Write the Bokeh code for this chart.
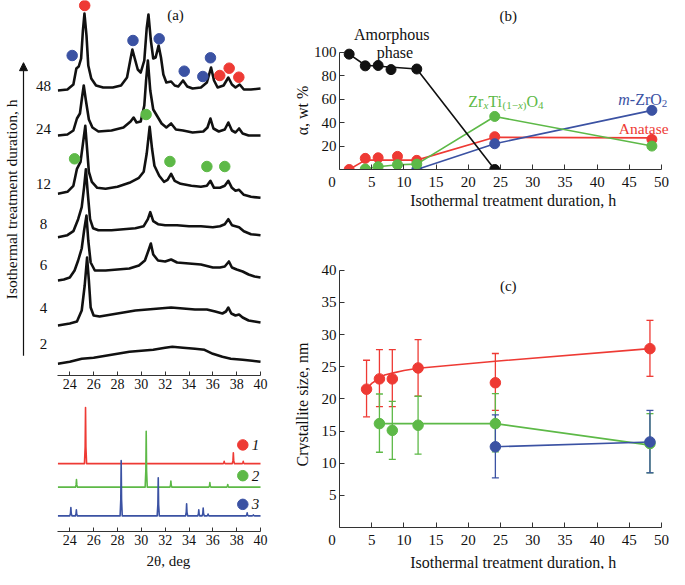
import math
from bokeh.plotting import figure
from bokeh.models import (Label, Arrow, NormalHead, FixedTicker, Range1d, Whisker,
                          ColumnDataSource, TeeHead)
from bokeh.layouts import row, column
from bokeh.embed import file_html
from bokeh.resources import INLINE
from bokeh.core.properties import value

FONT = "Liberation Serif"
RED = "#EE3A34"
GREEN = "#5DB947"
BLUE = "#3B52A3"
INK = "#111111"
AXC = "#333333"

# ---------------- data: panel (a), XRD patterns (2theta, intensity a.u.) ----------------
durations = ["48", "24", "12", "8", "6", "4", "2"]

tt_48 = [23.0, 23.8, 24.3, 24.55, 24.75, 24.95, 25.1, 25.23, 25.4, 25.55, 25.8, 26.2, 26.8, 27.6, 28.3,
         28.8, 29.1, 29.25, 29.45, 29.7, 29.95, 30.25, 30.45, 30.6, 30.8, 31.0, 31.2, 31.45, 31.65,
         31.85, 32.1, 32.5, 32.8, 33.1, 33.5, 33.85, 34.3, 35.0, 35.5, 35.85, 36.1, 36.4, 36.9, 37.3,
         37.6, 37.9, 38.25, 38.6, 39.2, 40.0]
int_48 = [0, 1, 6, 22, 24, 32, 60, 77, 55, 25, 12, 5, 3, 3, 5,
          13, 32, 41, 32, 21, 18, 30, 62, 76, 50, 32, 33, 45, 33,
          16, 8, 9, 5, 4, 10, 4, 2, 3, 8, 23, 10, 3, 5, 13,
          6, 3, 6, 1, 1, 2]

tt_24 = [23.0, 23.8, 24.3, 24.6, 24.85, 25.05, 25.17, 25.35, 25.6, 25.9, 26.4, 27.5, 28.5, 29.1, 29.35,
         29.6, 29.95, 30.25, 30.4, 30.55, 30.75, 31.0, 31.4, 31.7, 32.1, 32.5, 32.9, 33.5, 34.3, 35.2,
         35.55, 35.8, 36.05, 36.5, 37.0, 37.3, 37.6, 37.9, 38.2, 38.5, 39.0, 40.0]
int_24 = [0, 1, 5, 17, 22, 40, 50, 35, 16, 8, 4, 5, 8, 14, 18,
          13, 14, 30, 55, 75, 45, 26, 18, 12, 8, 12, 6, 5, 3, 4,
          8, 17, 7, 4, 6, 13, 5, 3, 7, 2, 0, 0]

tt_12 = [23.0, 23.8, 24.3, 24.6, 24.9, 25.1, 25.3, 25.45, 25.6, 25.85, 26.3, 27.0, 28.0, 29.0, 29.8,
         30.2, 30.45, 30.7, 30.9, 31.1, 31.5, 31.9, 32.2, 32.5, 32.8, 33.3, 34.2, 35.0, 35.5, 35.8,
         36.1, 36.6, 37.0, 37.3, 37.6, 37.9, 38.2, 38.6, 39.2, 40.0]
int_12 = [0, 2, 8, 25, 32, 50, 68, 45, 22, 12, 6, 5, 7, 11, 16,
          22, 40, 67, 45, 28, 18, 12, 14, 20, 13, 10, 8, 7, 8, 13,
          6, 6, 8, 13, 6, 3, 4, -1, -3, -4]

tt_8 = [23.0, 23.8, 24.3, 24.7, 25.0, 25.2, 25.35, 25.5, 25.7, 25.95, 26.4, 27.5, 28.5, 29.5, 30.2,
        30.55, 30.75, 31.0, 31.4, 32.0, 33.0, 34.0, 35.0, 36.0, 36.6, 37.0, 37.3, 37.6, 37.9, 38.2,
        38.6, 39.2, 40.0]
int_8 = [0, 2, 6, 18, 30, 50, 68, 45, 18, 9, 7, 7, 8, 9, 11,
         18, 25, 16, 13, 12, 12, 11, 11, 10, 11, 13, 18, 12, 11, 10,
         6, 3, 2]

tt_6 = [23.0, 23.5, 24.0, 24.4, 24.7, 25.0, 25.2, 25.4, 25.55, 25.75, 26.1, 27.0, 28.0, 29.0, 29.8,
        30.3, 30.6, 30.8, 31.0, 31.4, 32.0, 32.5, 33.0, 34.0, 35.0, 36.0, 36.6, 37.0, 37.35, 37.6,
        38.0, 38.5, 39.0, 39.5, 40.0]
int_6 = [0, 1, 3, 10, 20, 32, 50, 65, 40, 18, 10, 10, 11, 12, 15,
         20, 30, 37, 26, 20, 19, 21, 18, 17, 16, 13, 13, 14, 19, 13,
         11, 9, 6, 4, 3]

tt_4 = [23.0, 24.0, 24.6, 25.0, 25.25, 25.45, 25.6, 25.75, 26.0, 26.5, 27.5, 28.5, 29.5, 30.5, 31.5,
        32.5, 33.5, 34.5, 35.5, 36.2, 36.8, 37.1, 37.3, 37.55, 37.9, 38.2, 38.5, 39.0, 39.5, 40.0]
int_4 = [0, 2, 4, 15, 40, 68, 45, 18, 10, 9, 11, 13, 15, 16, 17,
         18, 17, 16, 16, 14, 12, 14, 18, 12, 10, 11, 8, 5, 4, 3]

tt_2 = [23.0, 24.0, 25.0, 26.0, 27.0, 28.0, 29.0, 30.0, 31.0, 32.0, 32.6, 33.5, 34.5, 35.3, 36.0,
        36.8, 37.5, 38.5, 39.3, 40.0]
int_2 = [0, 2, 5, 6, 8, 10, 12, 13, 14, 16, 17, 16, 15, 14, 10,
         7, 5, 4, 3, 2]

patterns = [(tt_48, int_48), (tt_24, int_24), (tt_12, int_12), (tt_8, int_8),
            (tt_6, int_6), (tt_4, int_4), (tt_2, int_2)]

# phase markers above the peaks (2theta, level in panel units)
anat_mark_tt = [25.25, 36.58, 37.37, 38.18]
anat_mark_y = [370.0, 300, 307.3, 298.3]
mzr_mark_tt = [24.2, 29.3, 31.5, 33.6, 35.16, 35.8]
mzr_mark_y = [320, 335, 336.7, 304.3, 299, 317.7]
zt_mark_tt = [30.4, 24.4, 32.4, 35.5, 37.0]
zt_mark_y = [261, 216.7, 214, 209, 209]

# reference (card) patterns: peak positions and heights
anat_pk_tt = [25.32, 36.95, 37.72, 38.55]
anat_pk_h = [62, 2.5, 12, 2.5]
zt_pk_tt = [24.56, 30.41, 32.48, 35.75, 37.25]
zt_pk_h = [8.3, 61.7, 6.7, 5, 3]
mzr_pk_tt = [24.09, 24.55, 28.31, 31.42, 33.8, 34.82, 35.19, 35.6, 38.88, 39.4]
mzr_pk_h = [9.3, 6.7, 61, 42, 13.3, 6.7, 8.7, 2, 3.3, 1]
ref_names = ["1", "2", "3"]

tt_ticks = [24, 26, 28, 30, 32, 34, 36, 38, 40]

# ---------------- data: panel (b) phase composition, wt % ----------------
amor_t = [1.5, 4.0, 6.0, 8.0, 12.0, 24.1]
amor_w = [98.5, 88.5, 88.8, 85.3, 85.8, 0]
amor_fit_t = [1.5, 4.0, 12.0, 24.1]
amor_fit_w = [98.5, 89.0, 85.8, 0]
anat_t = [1.5, 4.0, 6.0, 9.0, 12.0, 24.1, 48.5]
anat_w = [0, 9.5, 10.0, 11.2, 7.8, 28.0, 25.7]
anat_fit_t = [1.5, 4.0, 12.0, 24.1, 48.5]
anat_fit_w = [0, 8.0, 8.0, 27.5, 27.0]
zt_t = [4.0, 6.0, 9.0, 12.0, 24.1, 48.5]
zt_w = [0.4, 2.4, 4.1, 4.6, 45.3, 20.0]
mzr_t = [12.0, 24.1, 48.5]
mzr_w = [0, 22.0, 50.5]

# ---------------- data: panel (c) crystallite size, nm ----------------
c_anat_t = [4.2, 6.2, 8.2, 12.2, 24.2, 48.2]
c_anat_d = [21.5, 23.1, 23.1, 24.8, 22.5, 27.8]
c_anat_lo = [17.2, 18.8, 18.8, 20.4, 18.2, 23.5]
c_anat_hi = [26.0, 27.65, 27.65, 29.2, 27.05, 32.2]
c_anat_fit_t = [4.2, 5.0, 6.2, 7.0, 8.2, 10.0, 12.2, 24.2, 48.2]
c_anat_fit_d = [21.5, 22.4, 23.2, 23.7, 24.0, 24.4, 24.75, 25.85, 27.8]
c_zt_t = [6.2, 8.2, 12.2, 24.2, 48.2]
c_zt_d = [16.15, 15.1, 15.9, 16.15, 13.05]
c_zt_lo = [11.7, 10.6, 11.4, 11.75, 8.5]
c_zt_hi = [20.75, 19.6, 20.4, 20.8, 17.7]
c_zt_fit_t = [6.2, 24.2, 48.2]
c_zt_fit_d = [16.15, 16.15, 12.8]
c_mzr_t = [24.2, 48.2]
c_mzr_d = [12.55, 13.3]
c_mzr_lo = [7.7, 8.5]
c_mzr_hi = [17.5, 18.2]

t_ticks = [0, 5, 10, 15, 20, 25, 30, 35, 40, 45, 50]
wt_ticks = [20, 40, 60, 80, 100]
d_ticks = [5, 10, 15, 20, 25, 30, 35, 40]
t_title = "Isothermal treatment duration, h"

# ---------------- helpers ----------------
W = {"Z": .611, "r": .333, "T": .611, "i": .278, "(": .333, ")": .333, "1": .5, "\u2212": .564,
     "x": .444, "O": .722, "4": .5, "2": .5, "m": .722, "-": .333}


def rich(p, x, y, pieces, color, right=False):
    widths = [sum(W[c] for c in t) * fs for t, st, fs, dy in pieces]
    off = -sum(widths) if right else 0.0
    for (t, st, fs, dy), w in zip(pieces, widths):
        p.add_layout(Label(x=x, y=y, x_offset=off, y_offset=dy, text=t, text_font=FONT,
                           text_font_size=f"{fs}px", text_font_style=st, text_color=color,
                           text_baseline="alphabetic", text_align="left"))
        off += w


def lab(p, x, y, text, size="15px", color=INK, align="center", baseline="middle",
        angle=0.0, style="normal"):
    p.add_layout(Label(x=x, y=y, text=text, text_font=FONT, text_font_size=size,
                       text_color=color, text_align=align, text_baseline=baseline,
                       angle=angle, text_font_style=style))


def style_axis(ax, ticks, bounds, fs="15px", standoff=4, tick=5, overrides=None):
    ax.ticker = FixedTicker(ticks=ticks)
    ax.bounds = bounds
    ax.major_tick_in = tick
    ax.major_tick_out = 0
    ax.minor_tick_in = 0
    ax.minor_tick_out = 0
    ax.major_label_text_font = FONT
    ax.major_label_text_font_size = fs
    ax.major_label_text_color = INK
    ax.axis_line_color = AXC
    ax.major_tick_line_color = AXC
    ax.major_label_standoff = standoff
    if overrides:
        ax.major_label_overrides = overrides


def base_fig(w, h, xr, yr, **kw):
    p = figure(width=w, height=h, x_range=xr, y_range=yr, output_backend="svg",
               toolbar_location=None, outline_line_color=None, **kw)
    p.xgrid.visible = False
    p.ygrid.visible = False
    p.background_fill_color = "white"
    p.border_fill_color = "white"
    return p


def bare_fig(w, h, xr, yr):
    return base_fig(w, h, xr, yr, x_axis_location=None, y_axis_location=None,
                    min_border_left=0, min_border_right=0, min_border_top=0, min_border_bottom=0)


def stick_xy(pos, h, hw=0.09):
    xs, ys = [23.0], [0.0]
    for c, v in sorted(zip(pos, h)):
        xs += [c - hw, c - hw * 0.35, c, c + hw * 0.35, c + hw]
        ys += [0.0, v * 0.3, v, v * 0.3, 0.0]
    xs.append(40.0)
    ys.append(0.0)
    return xs, ys


# ---------------- layout (pixel positions inside the 669 x 569 page) ----------------
PX_DEG, TT0_PX = 11.92, 69.3   # column (a): 2theta 24 sits at 69.3 px, 11.92 px per degree


def px2tt(px):
    return 24 + (px - TT0_PX) / PX_DEG


a_xr = (px2tt(57), px2tt(261))
offsets = [285, 240, 181.7, 138.3, 95, 50, 11.7]
LEFT_W = 292
RIGHT_W = 669 - LEFT_W          # 377
STRIP_W = 18
MAIN_W = RIGHT_W - STRIP_W      # 359
BC_XR = (0, (MAIN_W - 27) / 6.48)

# ---------------- panel (a): left strip (arrow, durations, title) ----------------
pa0 = bare_fig(57, 398, Range1d(0, 57), Range1d(375 - 398, 375))
lab_src = ColumnDataSource(dict(x=[43] * len(durations), y=[o - 1 for o in offsets], t=durations))
pa0.text("x", "y", text="t", source=lab_src, text_font=value(FONT), text_font_size=value("15px"),
         text_align="center", text_baseline="middle", text_color=INK)
pa0.add_layout(Arrow(end=NormalHead(size=8, fill_color=INK, line_color=INK, line_width=1),
                     x_start=23, y_start=-2, x_end=23, y_end=309,
                     line_color=INK, line_width=1.2))
lab(pa0, 11, 164, "Isothermal treatment duration, h", size="15.5px", angle=math.pi / 2)

# ---------------- panel (a), top ----------------
pa = base_fig(LEFT_W - 57, 398, Range1d(*a_xr), Range1d(0, 375), y_axis_location=None,
              min_border_left=0, min_border_right=LEFT_W - 261, min_border_top=0,
              min_border_bottom=23)
style_axis(pa.xaxis[0], tt_ticks, (23, 40), fs="14px", standoff=3, tick=4)
for (tt, it), off in zip(patterns, offsets):
    pa.line(tt, [v + off for v in it], line_color=INK, line_width=2.6, line_join="round")
pa.scatter(anat_mark_tt, anat_mark_y, size=10.5, color=RED)
pa.scatter(mzr_mark_tt, mzr_mark_y, size=10.5, color=BLUE)
pa.scatter(zt_mark_tt, zt_mark_y, size=10.5, color=GREEN)
lab(pa, px2tt(175), 361, "(a)", size="15px")

# ---------------- panel (a), bottom (reference patterns) ----------------
pa2 = base_fig(LEFT_W, 153, Range1d(*a_xr), Range1d(0, 147), y_axis_location=None,
               min_border_left=57, min_border_right=LEFT_W - 261, min_border_top=0,
               min_border_bottom=20)
style_axis(pa2.xaxis[0], tt_ticks, (23, 40), fs="14px", standoff=3, tick=4)
ref_off = [75, 49, 17.3]
for (pos, hh), off, col in zip([(anat_pk_tt, anat_pk_h), (zt_pk_tt, zt_pk_h), (mzr_pk_tt, mzr_pk_h)],
                               ref_off, [RED, GREEN, BLUE]):
    xs, ys = stick_xy(pos, hh)
    pa2.line(xs, [v + off for v in ys], line_color=col, line_width=1.6, line_join="round")
leg_y = [95.7, 61.7, 30]
pa2.scatter([px2tt(242.3)] * 3, leg_y, size=10.5, color=[RED, GREEN, BLUE])
for name, yy in zip(ref_names, leg_y):
    lab(pa2, px2tt(255), yy, name, size="15px", style="italic")

xa = bare_fig(LEFT_W, 18, Range1d(0, LEFT_W), Range1d(569, 551))
lab(xa, 158.7, 560.5, "2\u03b8, deg", size="15px")

# ---------------- panel (b) ----------------
zero_lbl = {0: "0\u2007\u2007"}
yb = bare_fig(STRIP_W, 212, Range1d(0, STRIP_W), Range1d(212, 0))
lab(yb, 10, 110, "\u03b1, wt %", size="16px", angle=math.pi / 2)

pb = base_fig(MAIN_W, 192, Range1d(*BC_XR), Range1d(0, 144.3),
              min_border_left=27, min_border_right=0, min_border_top=0, min_border_bottom=21)
style_axis(pb.xaxis[0], t_ticks, (0, 50), overrides=zero_lbl)
style_axis(pb.yaxis[0], wt_ticks, (0, 100), standoff=3)
pb.line(anat_fit_t, anat_fit_w, line_color=RED, line_width=1.6)
pb.scatter(anat_t, anat_w, size=10, color=RED)
pb.line(mzr_t, mzr_w, line_color=BLUE, line_width=1.6)
pb.scatter(mzr_t, mzr_w, size=10, color=BLUE)
pb.line(zt_t, zt_w, line_color=GREEN, line_width=1.6)
pb.scatter(zt_t, zt_w, size=10, color=GREEN)
pb.line(amor_fit_t, amor_fit_w, line_color=INK, line_width=1.6)
pb.scatter(amor_t, amor_w, size=10, color=INK)
lab(pb, 26.2, 131.2, "(b)")
lab(pb, 8.1, 114.9, "Amorphous", size="16px")
lab(pb, 8.6, 100.3, "phase", size="16px")
rich(pb, 20.0, 58.1, [("Zr", "normal", 16, 0), ("x", "italic", 11, -4), ("Ti", "normal", 16, 0),
                      ("(1\u2212", "normal", 11, -4), ("x", "italic", 11, -4), (")", "normal", 11, -4),
                      ("O", "normal", 16, 0), ("4", "normal", 11, -4)], GREEN)
rich(pb, 50.9, 59.5, [("m", "italic", 16, 0), ("-ZrO", "normal", 16, 0), ("2", "normal", 11, -4)],
     BLUE, right=True)
lab(pb, 51.1, 34.8, "Anatase", size="15.5px", color=RED, align="right", baseline="alphabetic")

xb = bare_fig(MAIN_W, 20, Range1d(0, MAIN_W), Range1d(212, 192))
lab(xb, 27 + 25 * 6.48, 200, t_title, size="16px")

# ---------------- panel (c) ----------------
yc = bare_fig(STRIP_W, 357, Range1d(0, STRIP_W), Range1d(569, 212))
lab(yc, 10, 404, "Crystallite size, nm", size="16px", angle=math.pi / 2)

pc = base_fig(MAIN_W, 338, Range1d(*BC_XR), Range1d(0, 317 / 6.474),
              min_border_left=27, min_border_right=0, min_border_top=0, min_border_bottom=21)
style_axis(pc.xaxis[0], t_ticks, (0, 50), overrides=zero_lbl)
style_axis(pc.yaxis[0], d_ticks, (0, 40), standoff=3)


def errbars(p, t, lo, hi, col):
    src = ColumnDataSource(dict(base=t, lower=lo, upper=hi))
    p.add_layout(Whisker(source=src, base="base", lower="lower", upper="upper", dimension="height",
                         line_color=col, line_width=1.3,
                         upper_head=TeeHead(size=7, line_color=col, line_width=1.3),
                         lower_head=TeeHead(size=7, line_color=col, line_width=1.3)))


errbars(pc, c_anat_t, c_anat_lo, c_anat_hi, RED)
errbars(pc, c_zt_t, c_zt_lo, c_zt_hi, GREEN)
errbars(pc, c_mzr_t, c_mzr_lo, c_mzr_hi, BLUE)
pc.line(c_anat_fit_t, c_anat_fit_d, line_color=RED, line_width=1.6)
pc.line(c_zt_fit_t, c_zt_fit_d, line_color=GREEN, line_width=1.6)
pc.line(c_mzr_t, c_mzr_d, line_color=BLUE, line_width=1.6)
pc.scatter(c_anat_t, c_anat_d, size=10.5, color=RED)
pc.scatter(c_zt_t, c_zt_d, size=10.5, color=GREEN)
pc.scatter(c_mzr_t, c_mzr_d, size=10.5, color=BLUE)
lab(pc, 26.2, 37.6, "(c)")

xc = bare_fig(MAIN_W, 19, Range1d(0, MAIN_W), Range1d(569, 550))
lab(xc, 27 + 25 * 6.48, 561.5, t_title, size="16px")

layout = row(column(row(pa0, pa), pa2, xa), row(column(yb, yc), column(pb, xb, pc, xc)))
open("out.html", "w").write(file_html(layout, INLINE))
